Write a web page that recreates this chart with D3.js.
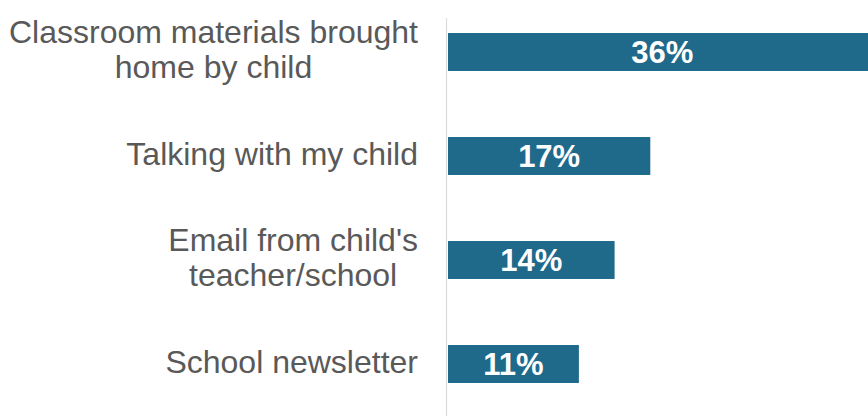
<!DOCTYPE html>
<html>
<head>
<meta charset="utf-8">
<script src="https://cdn.jsdelivr.net/npm/d3@7/dist/d3.min.js"></script>
<style>
  html, body { margin: 0; padding: 0; background: #ffffff; }
  svg { display: block; }
</style>
</head>
<body>
<svg id="chart" width="868" height="416"></svg>
<script>
const categories = [
  ["Classroom materials brought", "home by child"],
  ["Talking with my child"],
  ["Email from child's", "teacher/school"],
  ["School newsletter"]
];
const values = [36, 17, 14, 11];
const valueLabels = ["36%", "17%", "14%", "11%"];

const W = 868, H = 416;
const svg = d3.select("#chart");
const keys = categories.map(c => c.join(" "));

const x = d3.scaleLinear().domain([0, 36]).range([448, 448 + 36 * 11.9]);
const y = d3.scaleBand().domain(keys).range([0, H]).paddingInner(0.635).paddingOuter(0.3175);

// axis line
svg.append("line")
  .attr("x1", 446.5).attr("x2", 446.5)
  .attr("y1", 18).attr("y2", H)
  .attr("stroke", "#dcdcdc").attr("stroke-width", 1.2);

const data = keys.map((k, i) => ({ key: k, lines: categories[i], value: values[i], label: valueLabels[i] }));

svg.selectAll("rect.bar").data(data).enter().append("rect")
  .attr("class", "bar")
  .attr("x", x(0))
  .attr("y", d => y(d.key))
  .attr("width", d => x(d.value) - x(0))
  .attr("height", y.bandwidth())
  .attr("fill", "#1f6a8b");

svg.selectAll("text.val").data(data).enter().append("text")
  .attr("class", "val")
  .attr("x", d => (x(0) + x(d.value)) / 2)
  .attr("y", d => y(d.key) + y.bandwidth() / 2 + 11)
  .attr("text-anchor", "middle")
  .attr("font-family", "'Liberation Sans', Arial, sans-serif")
  .attr("font-weight", "bold")
  .attr("font-size", 31)
  .attr("fill", "#ffffff")
  .text(d => d.label);

const rightEdge = 418;
const fontSize = 32;
data.forEach(d => {
  const cy = y(d.key) + y.bandwidth() / 2;
  const g = svg.append("g");
  const tmp = g.selectAll("text.m").data(d.lines).enter().append("text")
    .attr("font-family", "'Liberation Sans', Arial, sans-serif")
    .attr("font-size", fontSize)
    .text(t => t);
  let maxW = 0;
  tmp.each(function () { maxW = Math.max(maxW, this.getComputedTextLength()); });
  tmp.remove();
  const n = d.lines.length;
  const lineH = 34.5;
  const firstBase = cy + 8.5 - (n - 1) * 17.25;
  g.selectAll("text.cat").data(d.lines).enter().append("text")
    .attr("class", "cat")
    .attr("x", rightEdge - maxW / 2)
    .attr("y", (t, i) => firstBase + i * lineH)
    .attr("text-anchor", "middle")
    .attr("font-family", "'Liberation Sans', Arial, sans-serif")
    .attr("font-size", fontSize)
    .attr("fill", "#595959")
    .text(t => t);
});
</script>
</body>
</html>
